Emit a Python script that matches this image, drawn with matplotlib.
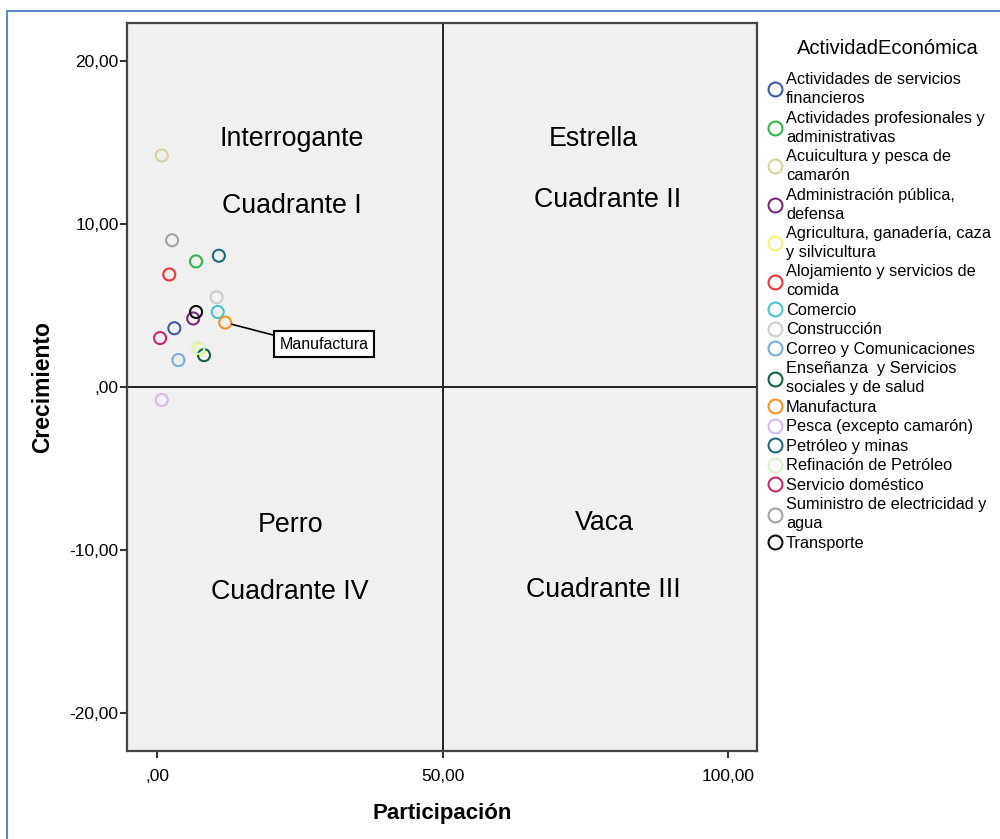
import matplotlib.pyplot as plt
import matplotlib.patches as patches
from matplotlib.ticker import FuncFormatter
from matplotlib.lines import Line2D

plt.rcParams['font.family'] = ['Liberation Sans', 'DejaVu Sans']

# sectores: nombre (con salto de linea como en la leyenda), participacion, crecimiento, color
sectores = ['Actividades de servicios\nfinancieros',
            'Actividades profesionales y\nadministrativas',
            'Acuicultura y pesca de\ncamarón',
            'Administración pública,\ndefensa',
            'Agricultura, ganadería, caza\ny silvicultura',
            'Alojamiento y servicios de\ncomida',
            'Comercio',
            'Construcción',
            'Correo y Comunicaciones',
            'Enseñanza  y Servicios\nsociales y de salud',
            'Manufactura',
            'Pesca (excepto camarón)',
            'Petróleo y minas',
            'Refinación de Petróleo',
            'Servicio doméstico',
            'Suministro de electricidad y\nagua',
            'Transporte']
participacion = [3.0, 6.8, 0.8, 6.3, 7.4, 2.1, 10.6, 10.4, 3.7, 8.2, 11.9, 0.8, 10.8, 7.2, 0.5, 2.6, 6.8]
crecimiento = [3.6, 7.7, 14.2, 4.2, 2.3, 6.9, 4.6, 5.5, 1.65, 1.95, 3.95, -0.8, 8.05, 2.4, 3.0, 9.0, 4.6]
colores = ['#3e58ac', '#2eb848', '#d8d29a', '#7c287d', '#f5f27a', '#ef3338', '#48c6cc',
           '#cccccc', '#7bace0', '#12613a', '#f9931c', '#dcb8f0', '#1d6a80', '#d6f2d0',
           '#c8286e', '#a3a3a3', '#111111']

# etiquetas de cuadrantes: nombre, (x, y), cuadrante, (x, y)
cuadrantes = [('Interrogante', 23.6, 15.2, 'Cuadrante I', 23.6, 11.1),
              ('Estrella', 76.4, 15.2, 'Cuadrante II', 79.0, 11.45),
              ('Perro', 23.3, -8.5, 'Cuadrante IV', 23.3, -12.6),
              ('Vaca', 78.3, -8.35, 'Cuadrante III', 78.2, -12.45)]

fig = plt.figure(figsize=(10, 8.39), dpi=100)
ax = fig.add_axes([0.127, 0.105, 0.630, 0.8676])
ax.set_facecolor('#f0f0f0')

ax.axvline(50, color='#222222', lw=1.4, zorder=1)
ax.axhline(0, color='#222222', lw=1.4, zorder=1)

for x, y, c in zip(participacion, crecimiento, colores):
    ax.scatter(x, y, s=75, facecolors='none', edgecolors=c, linewidths=1.5, zorder=3)

for t1, x1, y1, t2, x2, y2 in cuadrantes:
    ax.text(x1, y1, t1, fontsize=19.3, ha='center', va='center')
    ax.text(x2, y2, t2, fontsize=19.3, ha='center', va='center')

i = sectores.index('Manufactura')
ax.annotate('Manufactura', xy=(participacion[i], crecimiento[i]), xytext=(71, -15.5),
            textcoords='offset points', fontsize=11.5, ha='center', va='center',
            bbox=dict(boxstyle='square,pad=0.35', fc='white', ec='black', lw=1.5),
            arrowprops=dict(arrowstyle='-', color='black', lw=1.2, relpos=(0, 1),
                            shrinkA=0, shrinkB=5))

ax.set_xlim(-5.3, 105.1)
ax.set_ylim(-22.33, 22.33)
ax.set_xticks([0, 50, 100])
ax.set_yticks([-20, -10, 0, 10, 20])


def coma(v, pos):
    s = f'{v:.2f}'.replace('.', ',')
    if s.startswith('0,'):
        s = s[1:]
    return s


ax.xaxis.set_major_formatter(FuncFormatter(coma))
ax.yaxis.set_major_formatter(FuncFormatter(coma))
ax.tick_params(length=5, width=1.5, color='#333333', labelsize=12.5, pad=1)
ax.tick_params(axis='x', pad=8)
for sp in ax.spines.values():
    sp.set_color('#444444')
    sp.set_linewidth(1.6)

ax.set_xlabel('Participación', fontsize=16, fontweight='bold', labelpad=14)
ax.set_ylabel('Crecimiento', fontsize=16.5, fontweight='bold', labelpad=11)

handles = [Line2D([], [], ls='none', marker='o', markersize=10, markerfacecolor='none',
                  markeredgecolor=c, markeredgewidth=1.5) for c in colores]
leg = fig.legend(handles, sectores, loc='upper left', bbox_to_anchor=(0.768, 0.914),
                 frameon=False, fontsize=11.8, handlelength=0.9, handletextpad=0.2,
                 labelspacing=0.275, borderpad=0, borderaxespad=0)
for t in leg.get_texts():
    t.set_linespacing(1.33)
fig.text(0.888, 1 - 48 / 839, 'ActividadEconómica', fontsize=14.5, ha='center', va='center')

borde = patches.Rectangle((0.007, -0.1), 1.1, 1.1 - 11 / 839, transform=fig.transFigure,
                          fill=False, edgecolor='#3a74b4', lw=1.2)
fig.patches.append(borde)

fig.savefig('out.png', dpi=100)
